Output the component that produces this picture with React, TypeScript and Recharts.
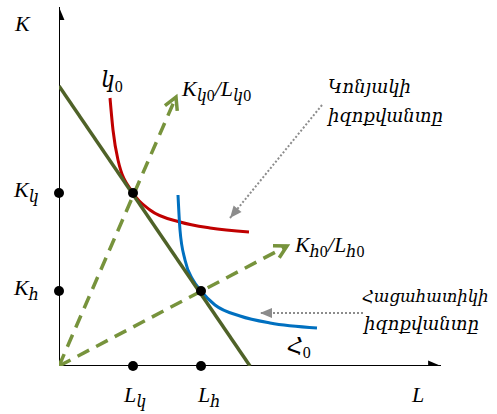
import React from 'react'
import { ComposedChart, Line, XAxis, YAxis, ReferenceDot } from 'recharts'

// coordinates are in chart units (1 unit ~ 1px, origin at the axes crossing)
const kAxis = [{ x: 0, y: 0 }, { x: 0, y: 359 }]
const lAxis = [{ x: 0, y: 0 }, { x: 382, y: 0 }]
const budgetLine = [{ x: 0, y: 280 }, { x: 191, y: 0 }]
const cognacIsoquant = [
  { x: 51, y: 268 }, { x: 54, y: 236 }, { x: 59, y: 206 }, { x: 74, y: 173 },
  { x: 91, y: 156 }, { x: 121, y: 144 }, { x: 151, y: 138 }, { x: 190, y: 134 },
]
const grainIsoquant = [
  { x: 119, y: 171 }, { x: 121, y: 136 }, { x: 126, y: 106 }, { x: 134, y: 86 },
  { x: 142, y: 75 }, { x: 156, y: 61 }, { x: 181, y: 50 }, { x: 211, y: 43 }, { x: 258, y: 38 },
]
const cognacRay = [{ x: 0, y: 0 }, { x: 117, y: 269 }]
const grainRay = [{ x: 0, y: 0 }, { x: 228, y: 120 }]
const cognacPointer = [{ x: 263, y: 261 }, { x: 171, y: 148 }]
const grainPointer = [{ x: 304, y: 53 }, { x: 201, y: 53 }]
const markedPoints = [
  { x: 74, y: 173 }, { x: 142, y: 75 },
  { x: 0, y: 173 }, { x: 0, y: 75 },
  { x: 74, y: 0 }, { x: 142, y: 0 },
]

const GREEN = '#77933C'
const DARK_GREEN = '#4F6228'
const RED = '#C00000'
const BLUE = '#0070C0'
const GREY = '#8C8C8C'
const MATH = "'Liberation Serif', 'DejaVu Serif', serif"
const ARM = "'DejaVu Serif', 'DejaVu Sans', serif"

const arrowEnd = (data: { x: number; y: number }[], kind: 'fill' | 'open', color: string, size = 13) =>
  (props: any) => {
    const { cx, cy, index, points } = props
    if (index !== data.length - 1) return <g key={`d-${index}`} />
    let dx: number
    let dy: number
    if (points && points[index - 1]) {
      dx = cx - points[index - 1].x
      dy = cy - points[index - 1].y
    } else {
      dx = data[index].x - data[index - 1].x
      dy = -(data[index].y - data[index - 1].y)
    }
    const a = Math.atan2(dy, dx)
    const w = kind === 'open' ? 0.5 : 0.4
    const p1 = [cx - size * Math.cos(a - w), cy - size * Math.sin(a - w)]
    const p2 = [cx - size * Math.cos(a + w), cy - size * Math.sin(a + w)]
    if (kind === 'open') {
      return (
        <path key={`d-${index}`} d={`M${p1[0]},${p1[1]} L${cx},${cy} L${p2[0]},${p2[1]}`}
          fill="none" stroke={color} strokeWidth={3.5} strokeDasharray="none" strokeLinejoin="miter" />
      )
    }
    return (
      <path key={`d-${index}`} d={`M${p1[0]},${p1[1]} L${cx},${cy} L${p2[0]},${p2[1]} Z`}
        fill={color} stroke="none" />
    )
  }

const textAt = (content: React.ReactNode, dx = 0, dy = 0, family = MATH, size = 22) =>
  (props: any) => (
    <text x={props.cx + dx} y={props.cy + dy} fontFamily={family} fontStyle="italic" fontSize={size} fill="#000">
      {content}
    </text>
  )

const Sub = ({ children }: { children: React.ReactNode }) => (
  <tspan dy={5} fontSize={16}>{children}</tspan>
)
const Zero = () => <tspan fontStyle="normal" fontSize={16}>0</tspan>

const App = () => {
  return (
    <div style={{ position: 'absolute', left: 0, top: 0, width: 497, height: 414, background: '#fff' }}>
      <ComposedChart width={497} height={414} margin={{ top: 0, right: 38, bottom: 48, left: 59 }}>
        <XAxis type="number" dataKey="x" domain={[0, 400]} hide allowDataOverflow />
        <YAxis type="number" dataKey="y" domain={[0, 366]} hide allowDataOverflow />

        <Line data={kAxis} dataKey="y" stroke="#000" strokeWidth={2} isAnimationActive={false}
          dot={arrowEnd(kAxis, 'fill', '#000', 14)} activeDot={false} />
        <Line data={lAxis} dataKey="y" stroke="#000" strokeWidth={2} isAnimationActive={false}
          dot={arrowEnd(lAxis, 'fill', '#000', 14)} activeDot={false} />

        <Line data={cognacPointer} dataKey="y" stroke={GREY} strokeWidth={2} strokeDasharray="2 2"
          isAnimationActive={false} dot={arrowEnd(cognacPointer, 'fill', GREY, 13)} activeDot={false} />
        <Line data={grainPointer} dataKey="y" stroke={GREY} strokeWidth={2} strokeDasharray="2 2"
          isAnimationActive={false} dot={arrowEnd(grainPointer, 'fill', GREY, 13)} activeDot={false} />

        <Line data={cognacRay} dataKey="y" stroke={GREEN} strokeWidth={3.5} strokeDasharray="13 8"
          isAnimationActive={false} dot={arrowEnd(cognacRay, 'open', GREEN, 14)} activeDot={false} />
        <Line data={grainRay} dataKey="y" stroke={GREEN} strokeWidth={3.5} strokeDasharray="13 8"
          isAnimationActive={false} dot={arrowEnd(grainRay, 'open', GREEN, 14)} activeDot={false} />

        <Line data={cognacIsoquant} dataKey="y" type="monotone" stroke={RED} strokeWidth={3}
          isAnimationActive={false} dot={false} activeDot={false} />
        <Line data={grainIsoquant} dataKey="y" type="monotone" stroke={BLUE} strokeWidth={3}
          isAnimationActive={false} dot={false} activeDot={false} />
        <Line data={budgetLine} dataKey="y" stroke={DARK_GREEN} strokeWidth={3.5}
          isAnimationActive={false} dot={false} activeDot={false} />

        {markedPoints.map((p, i) => (
          <ReferenceDot key={`pt-${i}`} x={p.x} y={p.y} r={5} fill="#000" stroke="none" />
        ))}

        <ReferenceDot x={0} y={359} r={0} shape={textAt('K', -44, 24)} />
        <ReferenceDot x={382} y={0} r={0} shape={textAt('L', -29, 36)} />
        <ReferenceDot x={0} y={173} r={0} shape={textAt(<>K<Sub>կ</Sub></>, -45, 4)} />
        <ReferenceDot x={0} y={75} r={0} shape={textAt(<>K<Sub>հ</Sub></>, -45, 4)} />
        <ReferenceDot x={74} y={0} r={0} shape={textAt(<>L<Sub>կ</Sub></>, -9, 36)} />
        <ReferenceDot x={142} y={0} r={0} shape={textAt(<>L<Sub>հ</Sub></>, -3, 36)} />
        <ReferenceDot x={51} y={268} r={0} shape={textAt(<>կ<tspan dy={5}><Zero /></tspan></>, -9, -11)} />
        <ReferenceDot x={258} y={38} r={0} shape={textAt(<>Հ<tspan dy={5}><Zero /></tspan></>, -30, 25)} />
        <ReferenceDot x={117} y={269} r={0}
          shape={textAt(<>K<Sub>կ<Zero /></Sub><tspan dy={-5}>/L</tspan><Sub>կ<Zero /></Sub></>, 6, -1)} />
        <ReferenceDot x={228} y={120} r={0}
          shape={textAt(<>K<Sub>հ<Zero /></Sub><tspan dy={-5}>/L</tspan><Sub>հ<Zero /></Sub></>, 8, 6)} />
        <ReferenceDot x={263} y={261} r={0} shape={textAt('Կոնյակի', 6, -12, ARM, 18)} />
        <ReferenceDot x={263} y={261} r={0} shape={textAt('իզոքվանտը', 6, 17, ARM, 18)} />
        <ReferenceDot x={304} y={53} r={0} shape={textAt('Հացահատիկի', -1, -11, ARM, 16.5)} />
        <ReferenceDot x={304} y={53} r={0} shape={textAt('իզոքվանտը', 1, 17, ARM, 18)} />
      </ComposedChart>
    </div>
  )
}

export default App
